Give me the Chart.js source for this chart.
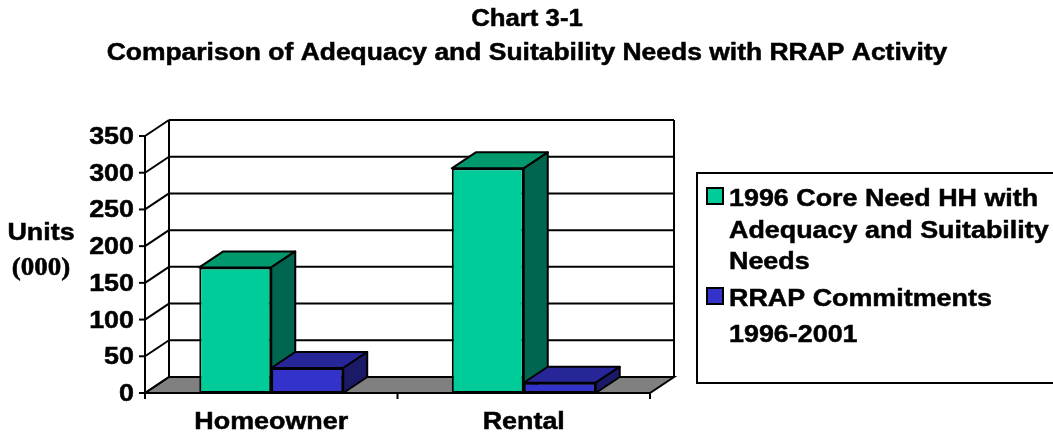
<!DOCTYPE html>
<html>
<head>
<meta charset="utf-8">
<script src="https://cdn.jsdelivr.net/npm/chart.js@4/dist/chart.umd.min.js"></script>
<style>
  html, body { margin: 0; padding: 0; background: #fff; }
  #wrap { width: 1053px; height: 434px; }
</style>
</head>
<body>
<div id="wrap"><canvas id="chart" width="1053" height="434"></canvas></div>
<script>
// ---- data ----
const categories = ['Homeowner', 'Rental'];
const coreNeedHH = [171, 306];
const rrapCommitments = [34, 14];
const coreNeedLabel = ['1996 Core Need HH with', 'Adequacy and Suitability', 'Needs'];
const rrapLabel = ['RRAP Commitments', '1996-2001'];
const yTickValues = [0, 50, 100, 150, 200, 250, 300, 350];
const titleLines = ['Chart 3-1', 'Comparison of Adequacy and Suitability Needs with RRAP Activity'];
const yAxisTitle = ['Units', '(000)'];

// ---- look ----
const DX = 24, DY = -16;          // depth of the 3-D box
const SX = 1.12;                  // horizontal stretch of all lettering
const SANS = '"Liberation Sans", Arial, sans-serif';
const SERIF = '"Liberation Serif", "Times New Roman", serif';

function drawText(ctx, str, x, y, size, align, family, sx) {
  ctx.save();
  ctx.translate(x, y);
  ctx.scale(sx || SX, 1);
  ctx.font = 'bold ' + size + 'px ' + (family || SANS);
  ctx.textAlign = align || 'left';
  ctx.textBaseline = 'alphabetic';
  ctx.fillStyle = '#000';
  ctx.strokeStyle = '#000';
  ctx.lineWidth = 0.5;
  ctx.fillText(str, 0, 0);
  ctx.strokeText(str, 0, 0);
  ctx.restore();
}

function poly(ctx, pts, fill) {
  ctx.beginPath();
  ctx.moveTo(pts[0][0], pts[0][1]);
  for (let i = 1; i < pts.length; i++) ctx.lineTo(pts[i][0], pts[i][1]);
  ctx.closePath();
  if (fill) { ctx.fillStyle = fill; ctx.fill(); }
  ctx.stroke();
}

function line(ctx, x1, y1, x2, y2) {
  ctx.beginPath();
  ctx.moveTo(x1, y1);
  ctx.lineTo(x2, y2);
  ctx.stroke();
}

const box3d = {
  id: 'box3d',
  beforeDatasetsDraw(chart) {
    const ctx = chart.ctx;
    const { left, right, top, bottom } = chart.chartArea;
    const ys = chart.scales.y, xs = chart.scales.x;
    ctx.save();
    ctx.strokeStyle = '#000';
    ctx.lineWidth = 2;

    // floor
    poly(ctx, [[left, bottom], [left + DX, bottom + DY], [right + DX, bottom + DY], [right, bottom]], '#808080');

    // back wall grid and side-wall diagonals
    yTickValues.forEach(v => {
      const py = ys.getPixelForValue(v);
      line(ctx, left + DX, py + DY, right + DX, py + DY);
      line(ctx, left, py, left + DX, py + DY);
      line(ctx, left - 6, py, left, py);
    });
    line(ctx, left + DX, top + DY, left + DX, bottom + DY);
    line(ctx, right + DX, top + DY, right + DX, bottom + DY);
    line(ctx, left, top, left, bottom);

    // category boundary ticks
    const half = (xs.getPixelForValue(1) - xs.getPixelForValue(0)) / 2;
    const bounds = [xs.getPixelForValue(0) - half];
    categories.forEach((c, i) => bounds.push(xs.getPixelForValue(i) + half));
    bounds.forEach(bx => line(ctx, bx, bottom, bx, bottom + 6));
    ctx.restore();
  },
  beforeDatasetDraw() {
    return false; // bars are painted together, left to right, below
  },
  afterDatasetsDraw(chart) {
    const ctx = chart.ctx;
    const bars = [];
    chart.data.datasets.forEach((ds, di) => {
      chart.getDatasetMeta(di).data.forEach(el => bars.push({ el, ds }));
    });
    bars.sort((a, b) => a.el.x - b.el.x);
    bars.forEach(({ el, ds }) => {
      el.draw(ctx, chart.chartArea);
      const l = el.x - el.width / 2, r = el.x + el.width / 2, t = el.y, b = el.base;
      ctx.save();
      ctx.strokeStyle = '#000';
      ctx.lineWidth = 2;
      ctx.lineJoin = 'round';
      poly(ctx, [[l, t], [l + DX, t + DY], [r + DX, t + DY], [r, t]], ds.topColor);
      poly(ctx, [[r, t], [r + DX, t + DY], [r + DX, b + DY], [r, b]], ds.sideColor);
      ctx.restore();
    });
  },
  afterDraw(chart) {
    const ctx = chart.ctx;
    const { left } = chart.chartArea;
    const ys = chart.scales.y, xs = chart.scales.x;

    // title
    drawText(ctx, titleLines[0], 527, 26, 23, 'center');
    drawText(ctx, titleLines[1], 527, 60, 23, 'center', SANS, 1.15);

    // value axis
    yTickValues.forEach(v => {
      drawText(ctx, String(v), left - 11, ys.getPixelForValue(v) + 8, 24, 'right');
    });
    drawText(ctx, yAxisTitle[0], 41, 240, 24, 'center');
    drawText(ctx, yAxisTitle[1], 41, 275, 25, 'center', SERIF, 1.08);

    // categories
    categories.forEach((c, i) => drawText(ctx, c, xs.getPixelForValue(i), 429, 24, 'center'));

    // legend
    ctx.save();
    ctx.strokeStyle = '#000';
    ctx.lineWidth = 2;
    ctx.strokeRect(697, 173, 400, 210);
    const entries = [
      { lines: chart.data.datasets[0].label, color: chart.data.datasets[0].backgroundColor, y: [206, 238, 269] },
      { lines: chart.data.datasets[1].label, color: chart.data.datasets[1].backgroundColor, y: [306, 342] }
    ];
    entries.forEach(e => {
      ctx.fillStyle = e.color;
      ctx.fillRect(707, e.y[0] - 18, 16, 16);
      ctx.strokeRect(707, e.y[0] - 18, 16, 16);
      e.lines.forEach((s, k) => drawText(ctx, s, 729, e.y[k], 24, 'left'));
    });
    ctx.restore();
  }
};

new Chart(document.getElementById('chart'), {
  type: 'bar',
  data: {
    labels: categories,
    datasets: [
      {
        label: coreNeedLabel,
        data: coreNeedHH,
        backgroundColor: '#00CC99',
        topColor: '#00996E',
        sideColor: '#006650',
        borderColor: '#000',
        borderWidth: 2,
        borderSkipped: false
      },
      {
        label: rrapLabel,
        data: rrapCommitments,
        backgroundColor: '#3333CC',
        topColor: '#262699',
        sideColor: '#1A1A66',
        borderColor: '#000',
        borderWidth: 2,
        borderSkipped: false
      }
    ]
  },
  options: {
    responsive: false,
    animation: false,
    devicePixelRatio: 1,
    layout: { padding: { left: 145, right: 403, top: 136, bottom: 41 } },
    datasets: { bar: { barPercentage: 1, categoryPercentage: 0.57 } },
    plugins: { legend: { display: false }, title: { display: false }, tooltip: { enabled: false } },
    scales: {
      x: { display: false, offset: true },
      y: { display: false, min: 0, max: 350 }
    }
  },
  plugins: [box3d]
});
</script>
</body>
</html>
